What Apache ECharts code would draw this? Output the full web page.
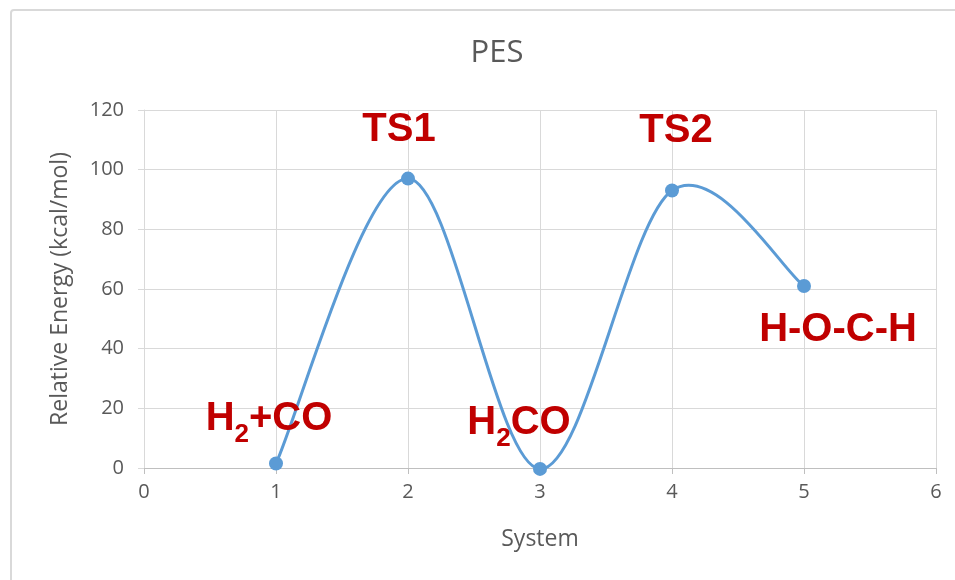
<!DOCTYPE html>
<html>
<head>
<meta charset="utf-8">
<script src="https://cdn.jsdelivr.net/npm/echarts@6/dist/echarts.min.js"></script>
<style>
html,body{margin:0;padding:0;background:#fff;}
#chart{width:955px;height:580px;}
</style>
</head>
<body>
<div id="chart"></div>
<script>
var systems = [1, 2, 3, 4, 5];
var energies = [1.5, 97, -0.3, 93, 61];
var speciesLabels = ['{m|H}{s|2}{m|+CO}', '{t|TS1}', '{m|H}{s|2}{m|CO}', '{t|TS2}', '{t|H-O-C-H}'];
var xTicks = [0, 1, 2, 3, 4, 5, 6];
var yTicks = [0, 20, 40, 60, 80, 100, 120];

var labelPlacement = [
  {position: 'top', offset: [-7, -4]},
  {position: 'top', offset: [-9, -17]},
  {position: 'top', offset: [-21, -5]},
  {position: 'top', offset: [4, -28]},
  {position: 'bottom', offset: [34, 12]}
];

var red = '#C00000';
var rich = {
  t: {fontFamily: 'Liberation Sans', fontWeight: 'bold', fontSize: 40, color: red, lineHeight: 40},
  m: {fontFamily: 'Liberation Sans', fontWeight: 'bold', fontSize: 40, color: red, lineHeight: 58},
  s: {fontFamily: 'Liberation Sans', fontWeight: 'bold', fontSize: 26, color: red, lineHeight: 26, verticalAlign: 'bottom'}
};

var points = systems.map(function (x, i) { return [x, energies[i]]; });

var seriesData = points.map(function (p, i) {
  return {
    value: p,
    label: {
      show: true,
      position: labelPlacement[i].position,
      offset: labelPlacement[i].offset,
      formatter: speciesLabels[i],
      rich: rich
    }
  };
});

// Excel-style smoothed line (Catmull-Rom Bezier) drawn through the axes' coordinates
function renderSmooth(params, api) {
  if (params.dataIndex !== 0) return null;
  var px = points.map(function (p) { return api.coord(p); });
  var n = px.length;
  var children = [];
  for (var i = 0; i < n - 1; i++) {
    var p0 = px[Math.max(i - 1, 0)], p1 = px[i], p2 = px[i + 1], p3 = px[Math.min(i + 2, n - 1)];
    children.push({
      type: 'bezierCurve',
      shape: {
        x1: p1[0], y1: p1[1], x2: p2[0], y2: p2[1],
        cpx1: p1[0] + (p2[0] - p0[0]) / 6, cpy1: p1[1] + (p2[1] - p0[1]) / 6,
        cpx2: p2[0] - (p3[0] - p1[0]) / 6, cpy2: p2[1] - (p3[1] - p1[1]) / 6
      },
      style: {fill: null, stroke: '#5B9BD5', lineWidth: 3, lineCap: 'round'}
    });
  }
  return {type: 'group', children: children};
}

var chart = echarts.init(document.getElementById('chart'), null, {renderer: 'canvas'});
var font = 'Open Sans';
chart.setOption({
  animation: false,
  backgroundColor: '#fff',
  graphic: [{
    type: 'rect',
    shape: {x: 11, y: 10, width: 960, height: 580, r: 3},
    style: {fill: 'none', stroke: '#D9D9D9', lineWidth: 2},
    silent: true
  }],
  title: {
    text: 'PES',
    left: 492,
    textAlign: 'center',
    top: 33,
    textStyle: {fontFamily: font, fontWeight: 'normal', fontSize: 31, color: '#595959'}
  },
  grid: {left: 144, right: 19, top: 110, bottom: 112},
  xAxis: {
    type: 'value',
    min: 0, max: 6, interval: 1,
    name: 'System',
    nameLocation: 'middle',
    nameGap: 60,
    nameTextStyle: {fontFamily: font, fontSize: 23, color: '#595959'},
    axisLine: {show: true, onZero: false, lineStyle: {color: '#BFBFBF', width: 1}},
    axisTick: {show: true, length: 6, lineStyle: {color: '#BFBFBF'}},
    axisLabel: {fontFamily: font, fontSize: 20, color: '#595959', margin: 14,
      formatter: function (v) { return xTicks.indexOf(v) >= 0 ? String(v) : ''; }},
    splitLine: {show: true, lineStyle: {color: '#D9D9D9', width: 1}}
  },
  yAxis: {
    type: 'value',
    min: 0, max: 120, interval: 20,
    name: 'Relative Energy (kcal/mol)',
    nameLocation: 'middle',
    nameGap: 72,
    nameTextStyle: {fontFamily: font, fontSize: 23, color: '#595959'},
    axisLine: {show: true, lineStyle: {color: '#D9D9D9', width: 1}},
    axisTick: {show: true, length: 6, lineStyle: {color: '#D9D9D9'}},
    axisLabel: {fontFamily: font, fontSize: 20, color: '#595959', margin: 20,
      formatter: function (v) { return yTicks.indexOf(v) >= 0 ? String(v) : ''; }},
    splitLine: {show: true, lineStyle: {color: '#D9D9D9', width: 1}}
  },
  series: [{
    type: 'custom',
    renderItem: renderSmooth,
    data: points,
    clip: false,
    silent: true,
    z: 2
  }, {
    type: 'scatter',
    data: seriesData,
    symbol: 'circle',
    symbolSize: 14,
    itemStyle: {color: '#5B9BD5', opacity: 1},
    clip: false,
    z: 3
  }]
});
</script>
</body>
</html>
